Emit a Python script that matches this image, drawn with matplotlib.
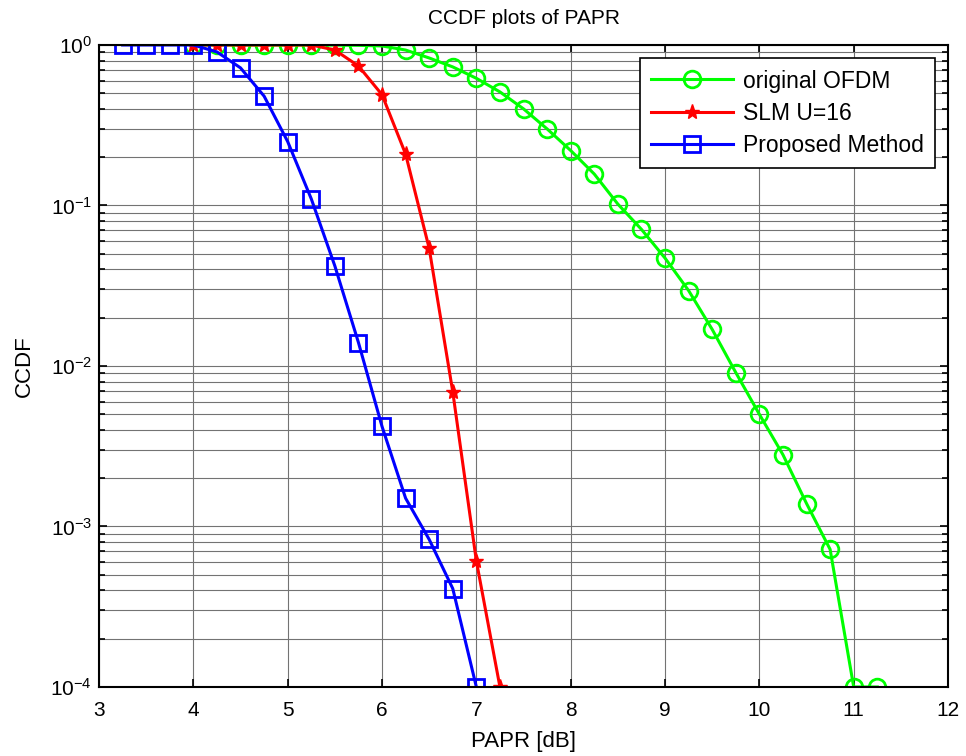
import matplotlib

matplotlib.use('Agg')

import matplotlib.pyplot as plt
from matplotlib.ticker import LogLocator, NullFormatter

plt.rcParams['font.family'] = ['Liberation Sans', 'DejaVu Sans']
plt.rcParams['mathtext.fontset'] = 'custom'
plt.rcParams['mathtext.rm'] = 'Liberation Sans'
plt.rcParams['mathtext.default'] = 'regular'

# значения
papr_orig = [4.0, 4.25, 4.5, 4.75, 5.0, 5.25, 5.5, 5.75, 6.0, 6.25, 6.5, 6.75,
             7.0, 7.25, 7.5, 7.75, 8.0, 8.25, 8.5, 8.75, 9.0, 9.25, 9.5, 9.75,
             10.0, 10.25, 10.5, 10.75, 11.0, 11.25]
ccdf_orig = [1.0, 1.0, 1.0, 1.0, 1.0, 1.0, 0.998, 0.995, 0.986, 0.93, 0.83, 0.73,
             0.62, 0.51, 0.40, 0.30, 0.22, 0.157, 0.102, 0.071, 0.047, 0.0295, 0.0169, 0.0091,
             0.005, 0.0028, 0.00139, 0.00072, 1e-4, 1e-4]

papr_slm = [4.0, 4.25, 4.5, 4.75, 5.0, 5.25, 5.5, 5.75, 6.0, 6.25, 6.5, 6.75, 7.0, 7.25]
ccdf_slm = [1.0, 1.0, 1.0, 1.0, 1.0, 1.0, 0.93, 0.74, 0.49, 0.209, 0.054, 0.0069, 0.00061, 1e-4]

papr_prop = [3.25, 3.5, 3.75, 4.0, 4.25, 4.5, 4.75, 5.0, 5.25, 5.5, 5.75, 6.0, 6.25, 6.5, 6.75, 7.0]
ccdf_prop = [1.0, 1.0, 1.0, 1.0, 0.905, 0.72, 0.48, 0.25, 0.11, 0.042, 0.014, 0.0042, 0.0015,
             0.00083, 0.00041, 1e-4]

x_ticks = [3, 4, 5, 6, 7, 8, 9, 10, 11, 12]
y_ticks = [1e-4, 1e-3, 1e-2, 1e-1, 1e0]
y_tick_labels = ['$10^{-4}$', '$10^{-3}$', '$10^{-2}$', '$10^{-1}$', '$10^{0}$']

fig = plt.figure(figsize=(9.66, 7.56), dpi=100)
ax = fig.add_axes([0.1025, 0.0913, 0.8789, 0.8492])

ax.semilogy(papr_orig, ccdf_orig, '-o', color='#00ff00', lw=2.2, ms=12,
            mfc='none', mew=2, label='original OFDM')
ax.semilogy(papr_slm, ccdf_slm, '-*', color='#ff0000', lw=2.2, ms=11,
            mew=1, label='SLM U=16')
ax.semilogy(papr_prop, ccdf_prop, '-s', color='#0000ff', lw=2.2, ms=12,
            mfc='none', mew=2, label='Proposed Method')

ax.set_xlim(3, 12)
ax.set_ylim(1e-4, 1)
ax.set_xticks(x_ticks)
ax.set_yticks(y_ticks)
ax.set_yticklabels(y_tick_labels)
ax.yaxis.set_minor_locator(LogLocator(base=10, subs=range(2, 10)))
ax.yaxis.set_minor_formatter(NullFormatter())

# сетка в стиле MATLAB
ax.grid(True, which='major', axis='both', color='0.45', lw=0.8)
ax.grid(True, which='minor', axis='y', color='0.45', lw=0.8)
ax.set_axisbelow(True)

ax.tick_params(which='both', direction='in', top=True, right=True, labelsize=15, width=1.2)
ax.tick_params(which='major', length=6)
ax.tick_params(which='minor', length=4)
ax.tick_params(axis='x', pad=10)
ax.tick_params(axis='y', pad=5)
for sp in ax.spines.values():
    sp.set_linewidth(1.5)
    sp.set_color('black')

ax.set_xlabel('PAPR [dB]', fontsize=16, labelpad=8)
ax.set_ylabel('CCDF', fontsize=16, labelpad=11)
ax.set_title('CCDF plots of PAPR', fontsize=15, pad=15)

leg = ax.legend(loc='upper right', fontsize=16.5, handlelength=3.6, handletextpad=0.4,
                fancybox=False, framealpha=1, edgecolor='black', borderaxespad=0.57,
                labelspacing=0.4, borderpad=0.5)
leg.get_frame().set_linewidth(1.2)

fig.savefig('out.png', dpi=100)
